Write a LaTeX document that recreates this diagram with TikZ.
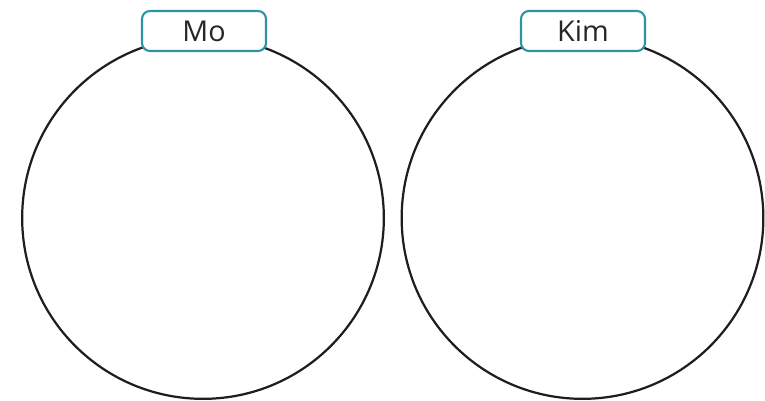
\documentclass[tikz,border=0pt]{standalone}
\usepackage{fontspec}
\setmainfont{Open Sans}
\usetikzlibrary{positioning}
\definecolor{ringline}{HTML}{1E1E1E}
\definecolor{tagline}{HTML}{2B95A3}
\definecolor{ink}{HTML}{262626}

\begin{document}
\begin{tikzpicture}[
  x=0.03cm, y=-0.03cm,
  ring/.style={circle, draw=ringline, line width=1.9pt, inner sep=0pt, minimum size=10.85cm},
  tag/.style={rectangle, rounded corners=0.24cm, draw=tagline, fill=white, line width=1.8pt,
              minimum width=3.72cm, minimum height=1.2cm, inner sep=0pt, text=ink,
              font=\fontsize{24.5}{28}\selectfont},
]
\useasboundingbox (0,0) rectangle (765,401);

% ===== two rings =====
\node[ring] (mo)  at (203,218) {};
\node[ring] (kim) at (582.5,218) {};

% ===== name tags on top =====
\node[tag] (motag)  at (204,31) {Mo};
\node[tag] (kimtag) at (583,31) {Kim};

\end{tikzpicture}
\end{document}
